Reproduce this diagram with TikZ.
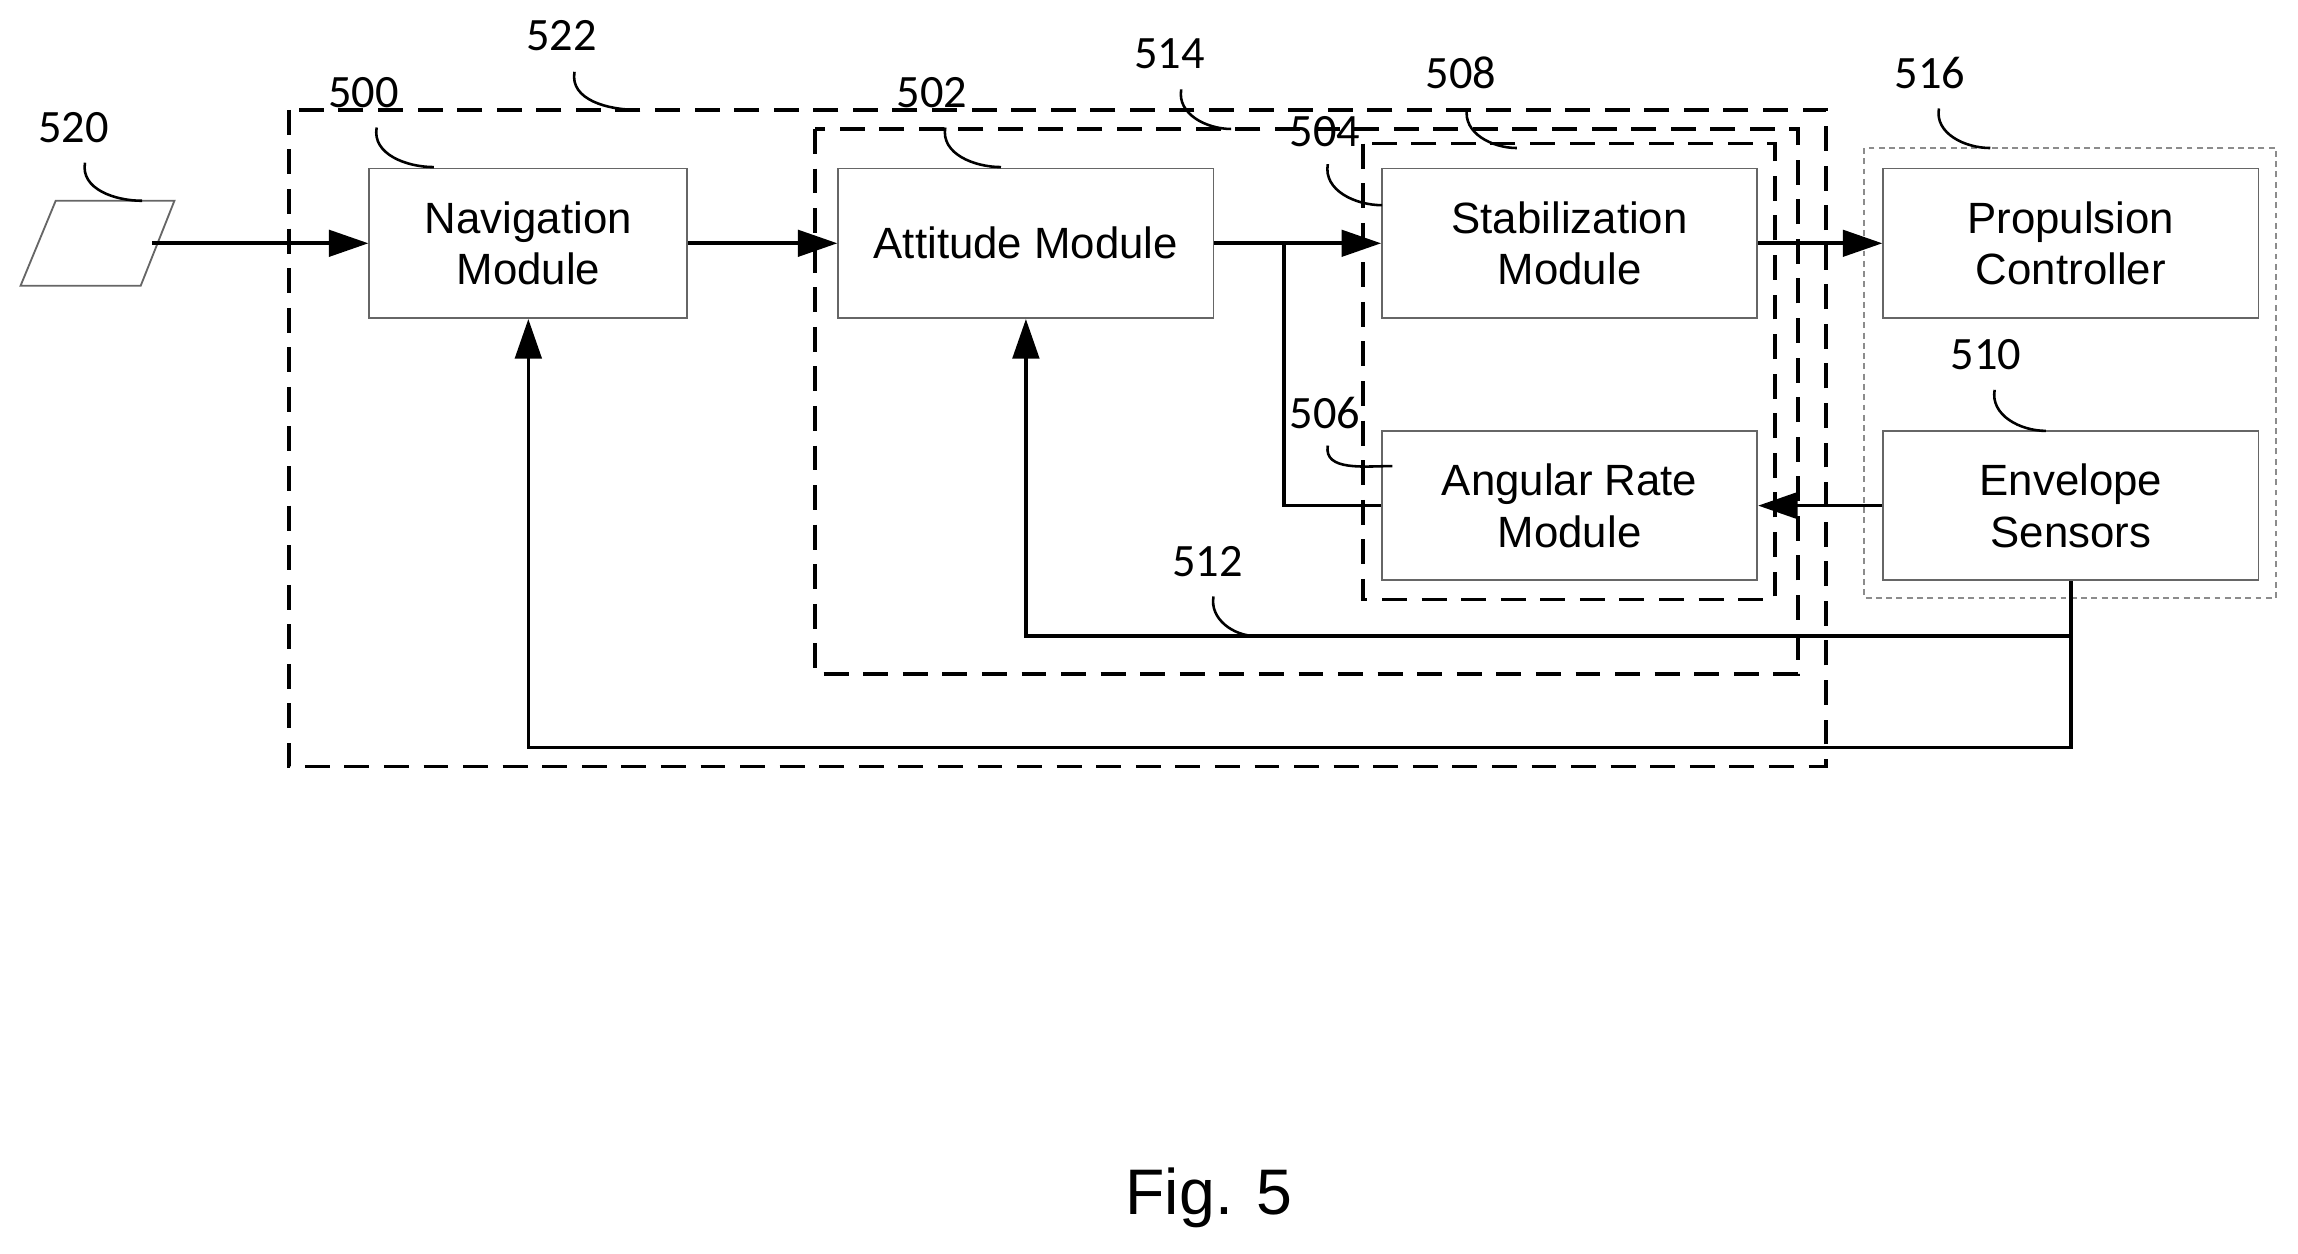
\documentclass[tikz,border=0pt]{standalone}
\usepackage{fontspec}
\setmainfont{Liberation Sans}
\newfontfamily\numfont{Carlito}
\usetikzlibrary{arrows.meta}
\begin{document}
\begin{tikzpicture}[x=0.2mm,y=-0.2mm,
  box/.style={draw=black!60,line width=0.25mm,minimum width=51.2mm,minimum height=20.4mm,align=center,font=\fontsize{17}{20}\selectfont,inner sep=0pt},
  conn/.style={line width=0.5mm,-{Triangle[length=5.4mm,width=3.6mm]}},
  line/.style={line width=0.5mm},
  grp/.style={line width=0.5mm,dash pattern=on 3.4mm off 2mm},
  num/.style={font=\numfont\fontsize{18}{20}\selectfont,inner sep=0pt},
  lead/.style={line width=0.35mm}]
\useasboundingbox (0,0) rectangle (1568,855);
% containers
\draw[grp] (197,75) rectangle (1246,523);
\draw[grp] (556,88) rectangle (1227,460);
\draw[grp] (930,98) rectangle (1211,409);
\draw[black!45,line width=0.3mm,dash pattern=on 0.8mm off 0.6mm] (1272,101) rectangle (1553,408);
% boxes
\node[box,minimum width=43.4mm] (nav) at (360.5,166) {Navigation\\Module};
\node[box] (att) at (700,166) {Attitude Module};
\node[box] (stab) at (1071,166) {Stabilization\\Module};
\node[box] (ang) at (1071,345) {Angular Rate\\Module};
\node[box] (prop) at (1413,166) {Propulsion\\Controller};
\node[box] (env) at (1413,345) {Envelope\\Sensors};
\draw[black!60,line width=0.25mm] (14,195) -- (38,137) -- (119,137) -- (96,195) -- cycle;
\coordinate (in) at (104,166);
% connectors
\coordinate (br) at (876,166);
\draw[conn] (in) -- (nav.west);
\draw[conn] (nav.east) -- (att.west);
\draw[conn] (att.east) -- (stab.west);
\draw[line] (br) |- (ang.west);
\draw[conn] (stab.east) -- (prop.west);
\draw[conn] (env.west) -- (ang.east);
\coordinate (e1) at (1413,434);
\coordinate (e2) at (1413,510);
\draw[conn] (env.south) -- (e1) -| (att.south);
\draw[conn] (e1) -- (e2) -| (nav.south);
% labels
\node[num] (l520) at (50,87) {520};
\node[num] (l500) at (248,63) {500};
\node[num] (l522) at (383,24) {522};
\node[num] (l502) at (636,63) {502};
\node[num] (l514) at (798,37) {514};
\node[num] (l508) at (997,50) {508};
\node[num] (l504) at (904,90) {504};
\node[num] (l506) at (904,282) {506};
\node[num] (l516) at (1317,50) {516};
\node[num] (l510) at (1355,242) {510};
\node[num] (l512) at (824,383) {512};
\draw[lead] (58,111) to[out=-100,in=180] (97,137);
\draw[lead] (257,87) to[out=-100,in=180] (296,114);
\draw[lead] (392,49) to[out=-100,in=180] (435,75);
\draw[lead] (645,87) to[out=-100,in=180] (683,114);
\draw[lead] (806,61) to[out=-100,in=180] (840,88);
\draw[lead] (1001,74) to[out=-100,in=180] (1035,101);
\draw[lead] (906,112) to[out=-100,in=180] (943,140);
\draw[lead] (906,304) to[out=-100,in=180] (950,318);
\draw[lead] (1323,74) to[out=-100,in=180] (1358,101);
\draw[lead] (1361,266) to[out=-100,in=180] (1396,294);
\draw[lead] (828,407) to[out=-100,in=180] (857,434);
\node[font=\fontsize{25}{28}\selectfont] (fig) at (825,817) {Fig. 5};
\end{tikzpicture}
\end{document}
